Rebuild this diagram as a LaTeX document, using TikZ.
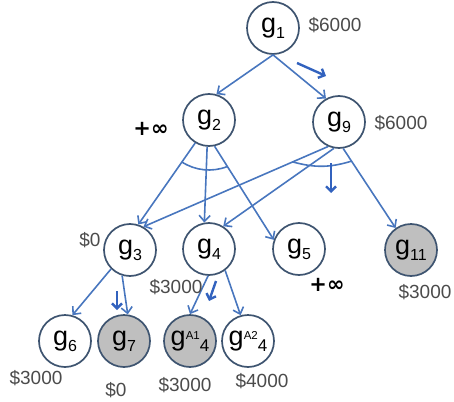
\documentclass[tikz,border=0pt]{standalone}
\usepackage{fontspec}
\setmainfont{Liberation Sans}
\newfontfamily\djv{DejaVu Sans}
\usetikzlibrary{arrows.meta,calc}
\definecolor{edgeblue}{RGB}{72,118,190}
\definecolor{markblue}{RGB}{50,98,190}
\definecolor{ringcol}{RGB}{62,84,112}
\definecolor{fillgray}{RGB}{191,191,191}
\definecolor{labgray}{RGB}{75,75,75}
\newcommand{\goalsub}[1]{g\raisebox{-6pt}{\fontsize{16}{16}\selectfont #1}}
\newcommand{\goalaux}[1]{g\raisebox{6pt}{\fontsize{11.5}{11.5}\selectfont A#1}\raisebox{-6pt}{\fontsize{17}{17}\selectfont 4}}
\tikzset{
 goal/.style={circle, draw=ringcol, line width=1.7pt, minimum size=52pt, inner sep=0pt, fill=white, font=\fontsize{27}{27}\selectfont},
 solved/.style={goal, fill=fillgray},
 edge/.style={draw=edgeblue, line width=1.6pt, -{Straight Barb[length=6pt,width=11pt]}},
 markarrow/.style={draw=markblue, line width=2.4pt, -{Straight Barb[length=5pt,width=10pt]}},
 andarc/.style={draw=edgeblue, line width=1.6pt},
 cost/.style={font=\fontsize{19}{19}\selectfont, text=labgray, inner sep=0pt},
 inf/.style={font=\djv\bfseries\fontsize{21}{21}\selectfont, inner sep=0pt},
}
\begin{document}
\begin{tikzpicture}[x=1pt,y=1pt]
\useasboundingbox (0,0) rectangle (454,-401);
% goal nodes
\node[goal] (g1) at (273,-28) {\goalsub{1}};
\node[goal] (g2) at (209,-120) {\goalsub{2}};
\node[goal] (g9) at (339,-122) {\goalsub{9}};
\node[goal] (g3) at (130,-250) {\goalsub{3}};
\node[goal] (g4) at (209,-249) {\goalsub{4}};
\node[goal] (g5) at (299,-249) {\goalsub{5}};
\node[solved] (g11) at (411,-250) {\goalsub{11}};
\node[goal] (g6) at (65,-341) {\goalsub{6}};
\node[solved] (g7) at (124,-341) {\goalsub{7}};
\node[solved] (gA1) at (190,-341) {\goalaux{1}};
\node[goal] (gA2) at (248,-341) {\goalaux{2}};
% connectors
\draw[edge] (g1.south) -- (g2.74);
\draw[edge] (g1.south) -- (g9.119);
\draw[edge] (g2.239) -- (g3.72);
\draw[edge] (g2.266) -- (g4.100);
\draw[edge] (g2.282) -- (g5.160);
\draw[edge] (g9.246) -- (g3.60);
\draw[edge] (g9.259) -- (g4.58);
\draw[edge] (g9.279) -- (g11.125);
\draw[edge] (g3.225) -- (g6.74);
\draw[edge] (g3.253) -- (g7.82);
\draw[edge] (g4.268) -- (gA1.90);
\draw[edge] (g4.307) -- (gA2.106);
% AND arcs
\draw[andarc] ([shift={(237:50pt)}]g2.center) arc[start angle=237, end angle=291, radius=50pt];
\coordinate (arcL) at (293,-162);
\coordinate (arcR) at (352,-161);
\draw[andarc] (arcL) to[bend right=16] (arcR);
% marker arrows
\coordinate (m1s) at (297,-63);
\coordinate (m1e) at (326,-76);
\coordinate (m2s) at (331,-163);
\coordinate (m2e) at (331,-193);
\coordinate (m3s) at (117,-291);
\coordinate (m3e) at (117,-310);
\coordinate (m4s) at (216,-281);
\coordinate (m4e) at (209,-301);
\draw[markarrow] (m1s) -- (m1e);
\draw[markarrow] (m2s) -- (m2e);
\draw[markarrow] (m3s) -- (m3e);
\draw[markarrow] (m4s) -- (m4e);
% labels
\node[cost] (c1) at (335,-25) {\$6000};
\node[cost] (c9) at (401,-123) {\$6000};
\node[inf] (i2) at (151,-129) {+∞};
\node[cost] (c3) at (90,-240) {\$0};
\node[cost] (c4) at (176,-287) {\$3000};
\node[inf] (i5) at (327,-285) {+∞};
\node[cost] (c11) at (425,-292) {\$3000};
\node[cost] (c6) at (36,-378) {\$3000};
\node[cost] (c7) at (116,-390) {\$0};
\node[cost] (cA1) at (185,-385) {\$3000};
\node[cost] (cA2) at (262,-381) {\$4000};
\end{tikzpicture}
\end{document}
